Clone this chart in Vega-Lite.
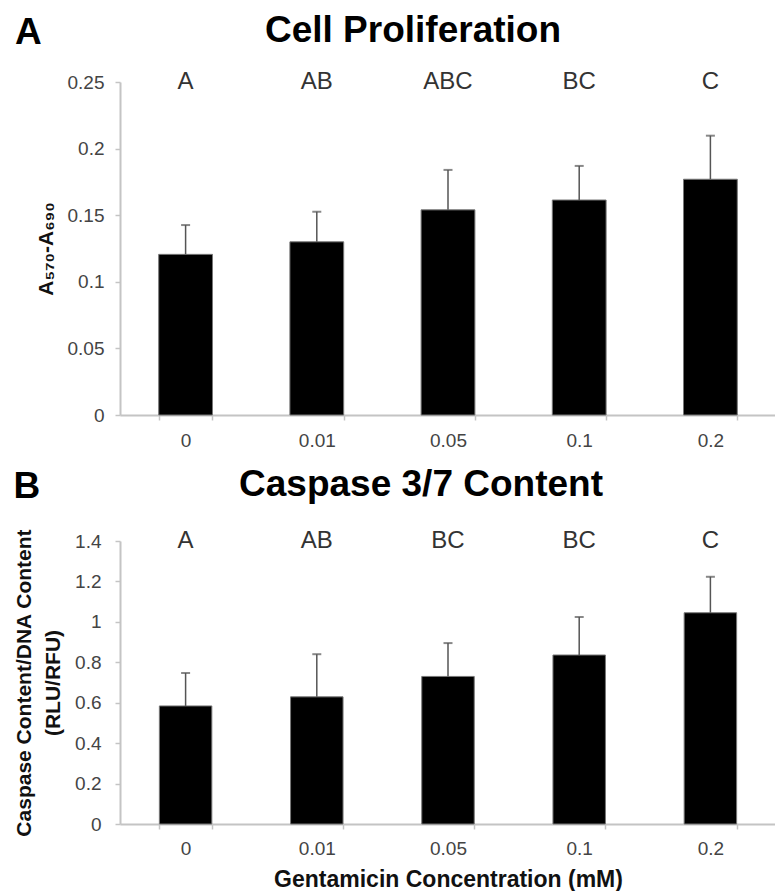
{
  "$schema": "https://vega.github.io/schema/vega-lite/v6.json",
  "padding": {"left": 13, "top": 12, "right": 0, "bottom": 0},
  "background": "white",
  "columns": 1,
  "align": "none",
  "spacing": 16,
  "config": {
    "font": "Liberation Sans",
    "view": {"stroke": null},
    "title": {"font": "Liberation Sans", "fontWeight": "bold", "fontSize": 37, "color": "black"},
    "axis": {
      "labelFont": "Liberation Sans", "labelFontSize": 19, "labelColor": "#444",
      "domainColor": "#c4c4c4", "domainWidth": 2, "tickColor": "#c4c4c4", "tickWidth": 1.5, "tickSize": 5,
      "grid": false, "titleFont": "Liberation Sans", "titleFontWeight": "bold", "titleColor": "#111"
    }
  },
  "datasets": {
    "prolif": [
      {"conc": "0", "mean": 0.1206, "upper": 0.1426, "letter": "A"},
      {"conc": "0.01", "mean": 0.130, "upper": 0.1526, "letter": "AB"},
      {"conc": "0.05", "mean": 0.154, "upper": 0.184, "letter": "ABC"},
      {"conc": "0.1", "mean": 0.1614, "upper": 0.187, "letter": "BC"},
      {"conc": "0.2", "mean": 0.177, "upper": 0.2097, "letter": "C"}
    ],
    "casp": [
      {"conc": "0", "mean": 0.584, "upper": 0.747, "letter": "A"},
      {"conc": "0.01", "mean": 0.629, "upper": 0.84, "letter": "AB"},
      {"conc": "0.05", "mean": 0.73, "upper": 0.895, "letter": "BC"},
      {"conc": "0.1", "mean": 0.836, "upper": 1.024, "letter": "BC"},
      {"conc": "0.2", "mean": 1.045, "upper": 1.223, "letter": "C"}
    ]
  },
  "concat": [
    {
      "title": {"text": "A", "anchor": "start", "offset": -40, "dx": -20},
      "vconcat": [
        {
          "data": {"name": "prolif"},
          "title": {"text": "Cell Proliferation", "offset": 20, "dx": -35},
          "width": 656,
          "height": 333,
          "encoding": {
            "x": {
              "field": "conc", "type": "nominal", "sort": null,
              "scale": {"paddingInner": 0.59, "paddingOuter": 0.295},
              "axis": {"title": null, "labelAngle": 0, "tickBand": "extent", "labelPadding": 11}
            }
          },
          "layer": [
            {
              "mark": {"type": "bar", "color": "black", "stroke": "#777", "strokeWidth": 1},
              "encoding": {
                "y": {
                  "field": "mean", "type": "quantitative", "title": "A₅₇₀-A₆₉₀",
                  "scale": {"domain": [0, 0.25], "nice": false},
                  "axis": {"values": [0, 0.05, 0.1, 0.15, 0.2, 0.25], "format": "~g", "titleFontSize": 21, "labelPadding": 11, "titlePadding": 11}
                }
              }
            },
            {
              "mark": {"type": "rule", "color": "#555", "strokeWidth": 1.5},
              "encoding": {"y": {"field": "mean", "type": "quantitative", "title": "A₅₇₀-A₆₉₀"}, "y2": {"field": "upper"}}
            },
            {
              "mark": {"type": "tick", "color": "#555", "thickness": 2, "size": 9},
              "encoding": {"y": {"field": "upper", "type": "quantitative", "title": "A₅₇₀-A₆₉₀"}}
            },
            {
              "mark": {"type": "text", "fontSize": 24, "color": "#333", "baseline": "middle"},
              "encoding": {"y": {"datum": 0.25}, "text": {"field": "letter"}}
            }
          ]
        }
      ]
    },
    {
      "title": {"text": "B", "anchor": "start", "offset": -40, "dx": 0},
      "vconcat": [
        {
          "data": {"name": "casp"},
          "title": {"text": "Caspase 3/7 Content", "offset": 24, "dx": -27},
          "width": 656,
          "height": 283,
          "encoding": {
            "x": {
              "field": "conc", "type": "nominal", "sort": null,
              "scale": {"paddingInner": 0.6, "paddingOuter": 0.3},
              "axis": {"title": "Gentamicin Concentration (mM)", "labelAngle": 0, "tickBand": "extent", "labelPadding": 10, "titleFontSize": 23, "titlePadding": 10}
            }
          },
          "layer": [
            {
              "mark": {"type": "bar", "color": "black", "stroke": "#777", "strokeWidth": 1},
              "encoding": {
                "y": {
                  "field": "mean", "type": "quantitative", "title": ["Caspase Content/DNA Content", "(RLU/RFU)"],
                  "scale": {"domain": [0, 1.4], "nice": false},
                  "axis": {"values": [0, 0.2, 0.4, 0.6, 0.8, 1, 1.2, 1.4], "format": "~g", "titleFontSize": 21, "titleLineHeight": 29, "labelPadding": 14, "titlePadding": 11}
                }
              }
            },
            {
              "mark": {"type": "rule", "color": "#555", "strokeWidth": 1.5},
              "encoding": {"y": {"field": "mean", "type": "quantitative", "title": ["Caspase Content/DNA Content", "(RLU/RFU)"]}, "y2": {"field": "upper"}}
            },
            {
              "mark": {"type": "tick", "color": "#555", "thickness": 2, "size": 9},
              "encoding": {"y": {"field": "upper", "type": "quantitative", "title": ["Caspase Content/DNA Content", "(RLU/RFU)"]}}
            },
            {
              "mark": {"type": "text", "fontSize": 24, "color": "#333", "baseline": "middle"},
              "encoding": {"y": {"datum": 1.4}, "text": {"field": "letter"}}
            }
          ]
        }
      ]
    }
  ]
}
